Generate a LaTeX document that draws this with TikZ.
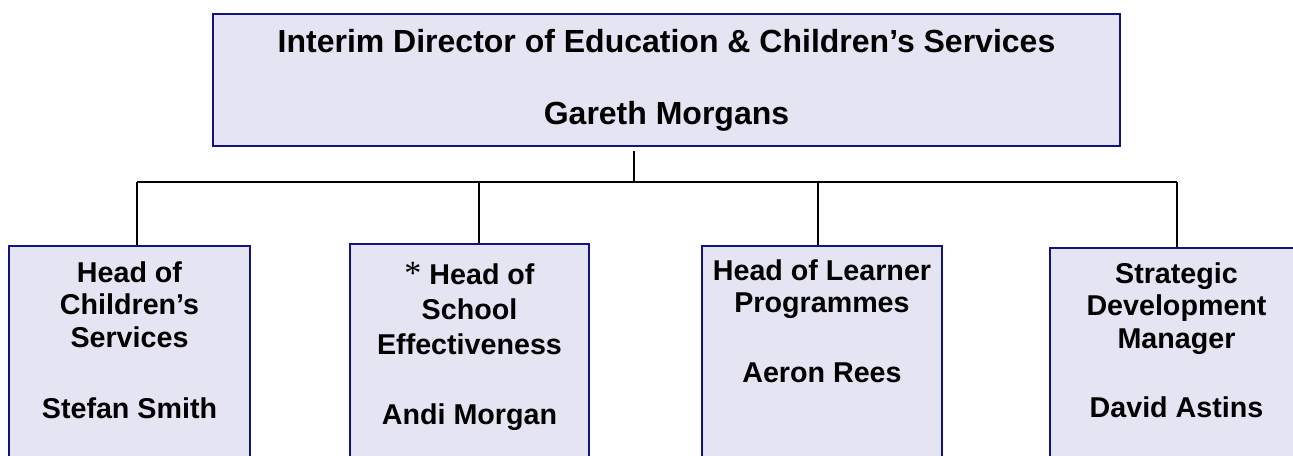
\documentclass[tikz,border=0pt]{standalone}
\usepackage{fontspec}
\setmainfont{Liberation Sans}
\newfontfamily\starfont{Liberation Serif}
\usetikzlibrary{positioning}

\definecolor{boxfill}{RGB}{228,228,242}
\definecolor{boxline}{RGB}{18,18,128}

\begin{document}
\begin{tikzpicture}[x=0.75pt, y=-0.75pt,
    postbox/.style={draw=boxline, fill=boxfill, line width=1.5pt, anchor=north, inner sep=0pt, minimum height=180pt},
    posttext/.style={anchor=north, align=center, inner sep=0pt, font=\bfseries\fontsize{21.5}{24.4}\selectfont},
    link/.style={line width=1.5pt}]
    \useasboundingbox (0,0) rectangle (1293,455);
    \clip (0,0) rectangle (1293,455);

    % director
    \node[postbox, minimum width=680.25pt, minimum height=99pt] (dir) at (666.5,13) {};
    \node[posttext, font=\bfseries\fontsize{24}{27.6}\selectfont] (dirtxt) at (666.5,29)
        {Interim Director of Education \& Children’s Services\\[26.4pt]Gareth Morgans};

    % heads, boxes run off the page at the bottom
    \node[postbox, minimum width=180.75pt] (hcs) at (129.5,245) {};
    \node[posttext] (hcstxt) at (129.5,261) {Head of\\Children’s\\Services\\[28.9pt]Stefan Smith};

    \node[postbox, minimum width=179.25pt] (hse) at (469.5,243) {};
    \node[posttext, font=\bfseries\fontsize{21.5}{26.25}\selectfont] (hsetxt) at (469.5,262)
        {{\starfont\mdseries\fontsize{25.5}{26}\selectfont*} Head of\\School\\Effectiveness\\[26.25pt]Andi Morgan};

    \node[postbox, minimum width=180pt] (hlp) at (822,245) {};
    \node[posttext] (hlptxt) at (822,259) {Head of Learner\\Programmes\\[27.75pt]Aeron Rees};

    \node[postbox, minimum width=189.75pt] (sdm) at (1176.5,247) {};
    \node[posttext] (sdmtxt) at (1176.5,262) {Strategic\\Development\\Manager\\[27.4pt]David Astins};

    % connectors
    \coordinate (hubtop) at (634,151);
    \coordinate (hub) at (634,182);
    \coordinate (bus1) at (137,182);
    \coordinate (bus2) at (479,182);
    \coordinate (bus3) at (818,182);
    \coordinate (bus4) at (1177,182);
    \draw[link] (hubtop) -- (hub);
    \draw[link] (bus1) -- (bus4);
    \foreach \b/\n in {bus1/hcs, bus2/hse, bus3/hlp, bus4/sdm}
        \draw[link] (\b) -- (\b |- \n.north);
\end{tikzpicture}
\end{document}
